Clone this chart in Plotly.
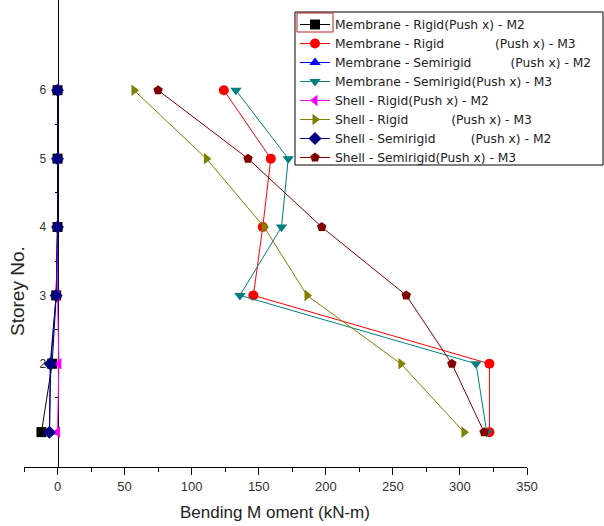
import plotly.graph_objects as go

storeys = [1, 2, 3, 4, 5, 6]
memb_rigid_m2 = [-12, -4, -1, 0, 0, 0]
memb_rigid_m3 = [322, 322, 146, 153, 159, 124]
memb_semi_m2 = [-6, -5, -1, 0, 0, 0]
memb_semi_m3 = [320, 312, 136, 167, 172, 133]
shell_rigid_m2 = [0, 1, 0, 0, 0, 0]
shell_rigid_m3 = [303, 256, 186, 154, 111, 57]
shell_semi_m2 = [-6, -5.5, -1, 0, 0, 0]
shell_semi_m3 = [318, 294, 260, 197, 142, 75]

x_ticks = [0, 50, 100, 150, 200, 250, 300, 350]
x_minor = [-25, 25, 75, 125, 175, 225, 275, 325]
y_minor = [1.5, 2.5, 3.5, 4.5, 5.5]

NB = "\u00a0"
series = [
    ("Membrane - Rigid(Push x) - M2", memb_rigid_m2, "#000000", "square"),
    ("Membrane - Rigid" + NB * 13 + "(Push x) - M3", memb_rigid_m3, "#FF0000", "circle"),
    ("Membrane - Semirigid" + NB * 10 + "(Push x) - M2", memb_semi_m2, "#0000FF", "triangle-up"),
    ("Membrane - Semirigid(Push x) - M3", memb_semi_m3, "#008080", "triangle-down"),
    ("Shell - Rigid(Push x) - M2", shell_rigid_m2, "#FF00FF", "triangle-left"),
    ("Shell - Rigid" + NB * 11 + "(Push x) - M3", shell_rigid_m3, "#808000", "triangle-right"),
    ("Shell - Semirigid" + NB * 9 + "(Push x) - M2", shell_semi_m2, "#000080", "diamond"),
    ("Shell - Semirigid(Push x) - M3", shell_semi_m3, "#800000", "pentagon"),
]

fig = go.Figure()
for name, vals, col, sym in series:
    fig.add_trace(go.Scatter(
        x=vals, y=storeys, name=name, mode="lines+markers",
        line=dict(color=col, width=1),
        marker=dict(color=col, symbol=sym, size=10),
        cliponaxis=False,
    ))

W, H = 604, 526
L, R, T, B = 24, 77, 0, 59
pw, ph = W - L - R, H - T - B
xmin, xmax = -25, 350
ymin, ymax = 0.49, 7.32

def px(xp):
    return (xp - L) / pw

def py(yp):
    return 1 - (yp - T) / ph

fig.update_layout(
    width=W, height=H,
    margin=dict(l=L, r=R, t=T, b=B),
    paper_bgcolor="white", plot_bgcolor="white",
    font=dict(family="Liberation Sans, Arial, sans-serif", color="#222"),
    showlegend=True,
    legend=dict(
        x=px(295), y=py(10), xanchor="left", yanchor="top",
        bgcolor="rgba(255,255,255,0)", borderwidth=0,
        font=dict(family="DejaVu Sans, sans-serif", size=12.3, color="#222"),
        tracegroupgap=0,
    ),
    xaxis=dict(
        range=[xmin, xmax], showgrid=False, zeroline=False,
        showline=True, linecolor="#000", linewidth=1,
        ticks="outside", ticklen=7, tickcolor="#000", tickwidth=1,
        tickmode="array", tickvals=x_ticks, ticktext=[str(v) for v in x_ticks],
        minor=dict(ticks="outside", ticklen=4, tickcolor="#000",
                   tickmode="array", tickvals=x_minor, showgrid=False),
        tickfont=dict(size=13, color="#333"),
    ),
    yaxis=dict(
        range=[ymin, ymax], showgrid=False, zeroline=False,
        anchor="free", position=(0 - xmin) / (xmax - xmin),
        showline=True, linecolor="#000", linewidth=1,
        ticks="outside", ticklen=5, tickcolor="#000", tickwidth=1,
        tickmode="array", tickvals=storeys, ticktext=[str(s) for s in storeys],
        minor=dict(ticks="outside", ticklen=3, tickcolor="#000",
                   tickmode="array", tickvals=y_minor, showgrid=False),
        tickfont=dict(size=12, color="#333"),
        ticklabelstandoff=4,
        layer="below traces",
    ),
    shapes=[
        dict(type="rect", xref="paper", yref="paper",
             x0=px(295), x1=px(603), y0=py(165), y1=py(12),
             line=dict(color="#000", width=1), layer="above"),
        dict(type="rect", xref="paper", yref="paper",
             x0=px(297), x1=px(333), y0=py(32), y1=py(13),
             line=dict(color="#B22222", width=1), layer="above"),
    ],
    annotations=[
        dict(text="Storey No.", xref="paper", yref="paper",
             x=px(17), y=py(291), xanchor="center", yanchor="middle",
             textangle=-90, showarrow=False,
             font=dict(size=19, color="#222")),
        dict(text="Bending M oment (kN-m)", xref="paper", yref="paper",
             x=px(275), y=py(512), xanchor="center", yanchor="middle",
             showarrow=False,
             font=dict(size=17, color="#222")),
    ],
)

fig.write_html("out.html")
